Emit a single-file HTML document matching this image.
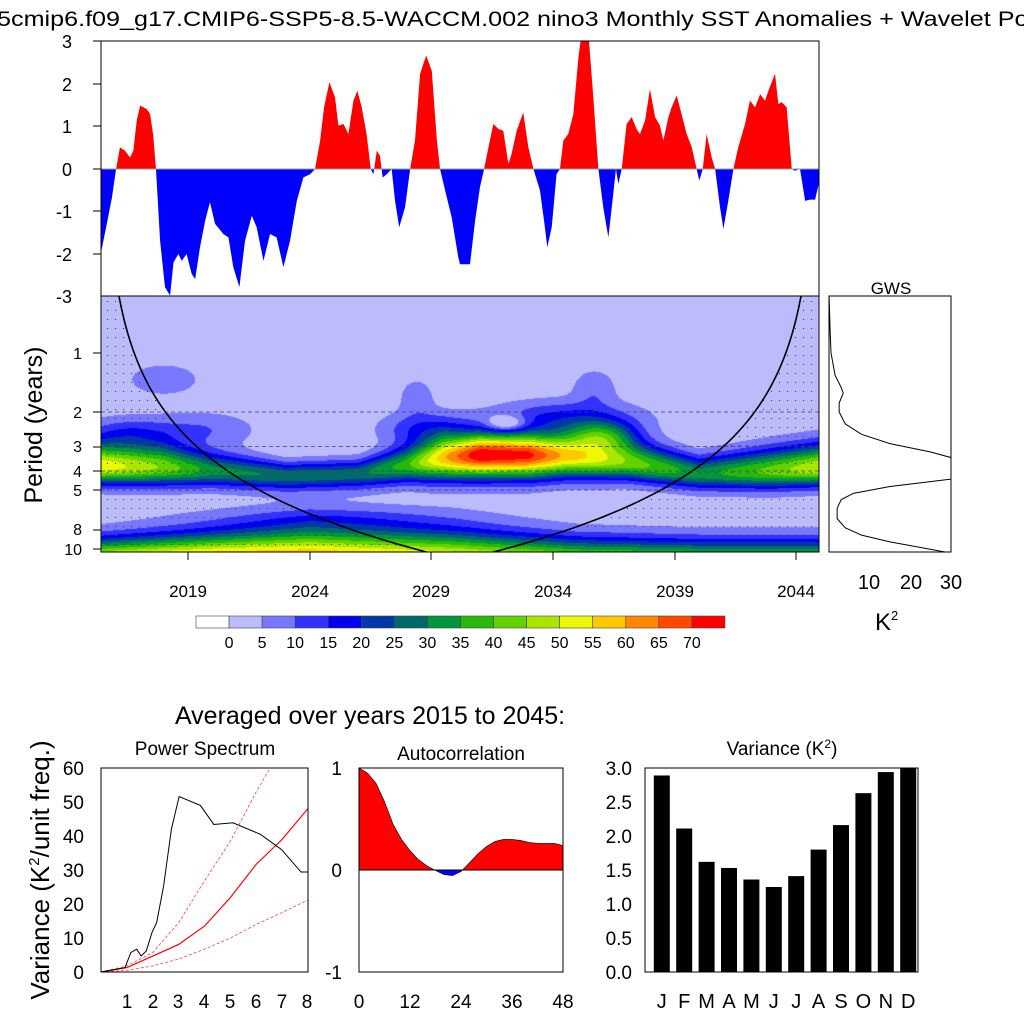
<!DOCTYPE html>
<html><head><meta charset="utf-8"><style>
html,body{margin:0;padding:0;background:#fff;}
#wrap{position:relative;width:1024px;height:1024px;overflow:hidden;font-family:"Liberation Sans",sans-serif;}
#wcanvas{position:absolute;left:101px;top:296px;}
#svg{position:absolute;left:0;top:0;}
text{font-family:"Liberation Sans",sans-serif;fill:#000;}
</style></head><body>
<div id="wrap">
<canvas id="wcanvas" width="718" height="256"></canvas>
<svg id="svg" width="1024" height="1024" xmlns="http://www.w3.org/2000/svg">
<defs>
<pattern id="stip" width="8" height="9" patternUnits="userSpaceOnUse"><rect x="3" y="4" width="1" height="1" fill="#333"/></pattern>
<clipPath id="clipPos"><rect x="101" y="41" width="718" height="128"/></clipPath>
<clipPath id="clipNeg"><rect x="101" y="169" width="718" height="127"/></clipPath>
<clipPath id="clipWave"><rect x="101" y="296" width="718" height="256"/></clipPath>
<clipPath id="clipGws"><rect x="829" y="296" width="122" height="256"/></clipPath>
<clipPath id="clipPs"><rect x="101" y="768" width="207" height="204"/></clipPath>
<clipPath id="clipAcPos"><rect x="359" y="768" width="204" height="102"/></clipPath>
<clipPath id="clipAcNeg"><rect x="359" y="870" width="204" height="102"/></clipPath>
</defs>
<text x="-3" y="26" font-size="21" textLength="1072" lengthAdjust="spacingAndGlyphs">5cmip6.f09_g17.CMIP6-SSP5-8.5-WACCM.002 nino3 Monthly SST Anomalies + Wavelet Power</text>

<g id="topPlot">
<g id="anomG"></g>
<line x1="101" y1="169" x2="819" y2="169" stroke="#999" stroke-width="1"/>
<rect x="101" y="41" width="718" height="255" fill="none" stroke="#000" stroke-width="1"/>
<g font-size="18" text-anchor="end">
<text x="72" y="48">3</text><text x="72" y="91">2</text><text x="72" y="133">1</text><text x="72" y="176">0</text><text x="72" y="218">-1</text><text x="72" y="261">-2</text><text x="72" y="303">-3</text>
</g>
<g stroke="#000">
<line x1="93" y1="41" x2="101" y2="41"/><line x1="93" y1="84" x2="101" y2="84"/><line x1="93" y1="126" x2="101" y2="126"/><line x1="93" y1="169" x2="101" y2="169"/><line x1="93" y1="211" x2="101" y2="211"/><line x1="93" y1="254" x2="101" y2="254"/>
</g>
</g>

<g id="wavePlot">
<g id="coiG" clip-path="url(#clipWave)"></g>
<g id="dashG"></g>
<rect x="101" y="296" width="718" height="256" fill="none" stroke="#000" stroke-width="1"/>
<g font-size="16" text-anchor="end">
<text x="82" y="359">1</text><text x="82" y="418">2</text><text x="82" y="452">3</text><text x="82" y="477">4</text><text x="82" y="496">5</text><text x="82" y="535">8</text><text x="82" y="555">10</text>
</g>
<g stroke="#000">
<line x1="93" y1="353" x2="101" y2="353"/><line x1="93" y1="412" x2="101" y2="412"/><line x1="93" y1="447" x2="101" y2="447"/><line x1="93" y1="471" x2="101" y2="471"/><line x1="93" y1="490" x2="101" y2="490"/><line x1="93" y1="530" x2="101" y2="530"/><line x1="93" y1="549" x2="101" y2="549"/>
</g>
<text transform="translate(42,425) rotate(-90)" font-size="25" text-anchor="middle">Period (years)</text>
<g font-size="17" text-anchor="middle">
<text x="188" y="597">2019</text><text x="310" y="597">2024</text><text x="431" y="597">2029</text><text x="553" y="597">2034</text><text x="675" y="597">2039</text><text x="796" y="597">2044</text>
</g>
<g stroke="#000">
<line x1="188" y1="552" x2="188" y2="560"/><line x1="310" y1="552" x2="310" y2="560"/><line x1="431" y1="552" x2="431" y2="560"/><line x1="553" y1="552" x2="553" y2="560"/><line x1="675" y1="552" x2="675" y2="560"/><line x1="796" y1="552" x2="796" y2="560"/>
</g>
</g>

<g id="gwsPlot">
<text x="891" y="294" font-size="17" text-anchor="middle">GWS</text>
<g id="gwsG" clip-path="url(#clipGws)"></g>
<rect x="829" y="296" width="122" height="256" fill="none" stroke="#000"/>
<g font-size="20" text-anchor="middle">
<text x="869" y="589">10</text><text x="911" y="589">20</text><text x="951" y="589">30</text>
</g>
<text x="875" y="630" font-size="24">K<tspan dy="-10" font-size="13">2</tspan></text>
</g>

<g id="cbar"></g>

<text x="370" y="724" font-size="25" text-anchor="middle">Averaged over years 2015 to 2045:</text>

<g id="psPlot">
<text x="205" y="755" font-size="19" text-anchor="middle">Power Spectrum</text>
<g id="psG" clip-path="url(#clipPs)"></g>
<rect x="101" y="768" width="207" height="204" fill="none" stroke="#000"/>
<g font-size="19" text-anchor="end">
<text x="84" y="979">0</text><text x="84" y="945">10</text><text x="84" y="911">20</text><text x="84" y="877">30</text><text x="84" y="843">40</text><text x="84" y="809">50</text><text x="84" y="775">60</text>
</g>
<g font-size="19" text-anchor="middle">
<text x="127" y="1008">1</text><text x="153" y="1008">2</text><text x="178" y="1008">3</text><text x="204" y="1008">4</text><text x="230" y="1008">5</text><text x="256" y="1008">6</text><text x="282" y="1008">7</text><text x="307" y="1008">8</text>
</g>
<text transform="translate(49,870) rotate(-90)" font-size="26" text-anchor="middle">Variance (K<tspan dy="-10" font-size="15">2</tspan><tspan dy="10">/unit freq.)</tspan></text>
</g>

<g id="acPlot">
<text x="461" y="760" font-size="19" text-anchor="middle">Autocorrelation</text>
<g id="acG"></g>
<line x1="359" y1="870" x2="563" y2="870" stroke="#000"/>
<rect x="359" y="768" width="204" height="204" fill="none" stroke="#000"/>
<g font-size="19" text-anchor="end">
<text x="342" y="775">1</text><text x="342" y="877">0</text><text x="342" y="979">-1</text>
</g>
<g font-size="19" text-anchor="middle">
<text x="359" y="1008">0</text><text x="410" y="1008">12</text><text x="461" y="1008">24</text><text x="512" y="1008">36</text><text x="563" y="1008">48</text>
</g>
</g>

<g id="varPlot">
<text x="782" y="755" font-size="19" text-anchor="middle">Variance (K<tspan dy="-7" font-size="12">2</tspan><tspan dy="7">)</tspan></text>
<g id="varG"></g>
<rect x="645" y="768" width="273" height="204" fill="none" stroke="#000"/>
<g font-size="19" text-anchor="end">
<text x="632" y="979">0.0</text><text x="632" y="945">0.5</text><text x="632" y="911">1.0</text><text x="632" y="877">1.5</text><text x="632" y="843">2.0</text><text x="632" y="809">2.5</text><text x="632" y="775">3.0</text>
</g>
<g id="varLab" font-size="20" text-anchor="middle"></g>
</g>
</svg>
</div>
<script>
// ---- data ----
const anomYears=[2015.38,2015.63,2015.87,2016.04,2016.20,2016.41,2016.61,2016.75,2016.89,2017.03,2017.30,2017.44,2017.57,2017.68,2017.85,2018.05,2018.26,2018.40,2018.60,2018.74,2018.94,2019.15,2019.29,2019.49,2019.70,2019.90,2020.11,2020.45,2020.66,2020.86,2021.11,2021.34,2021.62,2021.82,2022.10,2022.37,2022.64,2022.92,2023.19,2023.47,2023.74,2024.02,2024.22,2024.43,2024.59,2024.81,2025.04,2025.18,2025.39,2025.59,2025.80,2025.96,2026.14,2026.34,2026.51,2026.62,2026.76,2026.89,2027.00,2027.17,2027.37,2027.51,2027.68,2027.92,2028.13,2028.33,2028.54,2028.79,2029.02,2029.23,2029.36,2029.57,2029.84,2030.11,2030.18,2030.59,2030.80,2031.00,2031.17,2031.35,2031.55,2031.76,2031.96,2032.17,2032.30,2032.51,2032.78,2032.99,2033.20,2033.47,2033.67,2033.77,2033.95,2034.15,2034.29,2034.43,2034.63,2034.84,2035.05,2035.18,2035.46,2035.66,2035.87,2036.07,2036.28,2036.48,2036.59,2036.69,2036.83,2037.03,2037.24,2037.44,2037.58,2037.79,2037.99,2038.20,2038.40,2038.54,2038.75,2038.88,2039.09,2039.29,2039.50,2039.71,2039.91,2040.02,2040.16,2040.32,2040.53,2040.67,2040.87,2041.01,2041.21,2041.42,2041.62,2041.90,2042.10,2042.31,2042.52,2042.72,2042.86,2043.13,2043.27,2043.41,2043.61,2043.82,2043.95,2044.16,2044.37,2044.57,2044.78,2044.96];
const anomValues=[-2.08,-1.37,-0.67,0,0.51,0.43,0.27,0.43,1.14,1.49,1.41,1.29,0.78,0,-1.69,-2.78,-2.98,-2.2,-2.0,-2.16,-2.0,-2.47,-2.59,-1.84,-1.22,-0.78,-1.29,-1.53,-1.61,-2.31,-2.78,-1.69,-1.1,-1.37,-2.16,-1.53,-1.61,-2.31,-1.69,-0.75,-0.2,-0.12,0,0.67,1.45,2.04,1.69,1.02,1.06,0.82,1.61,1.84,1.45,0.82,0,-0.12,0.43,0.31,-0.2,-0.12,0,-0.75,-1.37,-0.9,0,0.67,2.24,2.67,2.31,0.67,0,-0.51,-1.14,-2.08,-2.24,-2.24,-1.22,-0.43,0,0.51,1.06,0.94,0.9,0.12,0.35,0.9,1.33,0.51,0,-0.51,-1.37,-1.84,-1.37,-0.12,0,0.67,0.82,1.29,2.63,3.2,3.2,1.69,0,-0.9,-1.61,-0.59,0,-0.35,0,1.06,1.22,0.94,0.82,1.14,1.88,1.22,1.02,0.67,1.22,1.45,1.73,1.29,0.82,0.51,0,-0.27,0,0.82,0.27,0,-0.9,-1.41,-0.75,0,0.51,1.06,1.61,1.45,1.76,1.61,1.84,2.24,1.53,1.57,1.45,0,-0.04,0,-0.75,-0.72,-0.72,-0.27];

const bandYears=[2015.4,2018,2020,2023,2026,2028,2029.5,2031,2033,2034.5,2037,2040,2043,2045];
const bandAmp=[52,42,30,27,26,36,56,73,70,55,42,30,40,48];
const bandCenter=[1.92,1.94,2.0,2.08,2.05,1.9,1.78,1.73,1.73,1.75,1.85,2.05,2.0,1.95];
const bandUpper=[0.27,0.27,0.22,0.15,0.16,0.22,0.25,0.25,0.25,0.25,0.26,0.2,0.26,0.28];
const bandLower=[0.2,0.2,0.18,0.17,0.17,0.2,0.25,0.26,0.26,0.24,0.2,0.18,0.2,0.2];
const lowYears=[2015,2020,2024,2030,2035,2040,2045];
const lowAmp=[55,62,62,55,45,42,42];
const lowWidth=[0.26,0.33,0.4,0.35,0.28,0.26,0.26];
const blobYear=[2018.0,2019.5,2028.4,2028.8,2035.7,2036.0,2034.5,2032.1,2016.5];
const blobLogP=[0.45,1.3,0.75,1.3,0.6,1.4,1.1,1.2,1.35];
const blobAmp=[6,8,6,14,7,25,14,-16,10];
const blobSdT=[1.1,1.5,0.5,1.2,0.6,1.0,2.0,0.6,1.2];
const blobSdP=[0.2,0.2,0.22,0.2,0.22,0.18,0.2,0.1,0.18];
const levelColors=["#ffffff","#bcbcfc","#7878ff","#3232ff","#0000f0","#0038aa","#006a6a","#00963c","#28b80a","#64d200","#aae600","#eef800","#ffc800","#ff8800","#ff4800","#ff0000"];
const levelLabels=[0,5,10,15,20,25,30,35,40,45,50,55,60,65,70];
const gwsPeriods=[0.5,0.8,1.0,1.3,1.5,1.6,1.8,2.0,2.3,2.6,2.9,3.2,3.6,4.0,4.4,4.8,5.2,5.6,6.2,7.0,7.8,8.5,9.2,10.4];
const gwsValues=[0,0.3,0.5,1.5,3,3.5,2.5,2.5,4,8,15,25,34,38,30,15,6,3,2,2,4,8,15,29];
const psFreq=[0,0.93,1.15,1.38,1.55,1.75,1.97,2.15,2.42,2.72,3.02,3.84,4.36,5.1,6.16,6.98,7.73,8];
const psPower=[0,1.3,5.7,6.7,4.7,6.2,11.6,14.5,25.3,42,51.6,49,43.4,43.9,40.5,36,29.4,29.4];
const redFreq=[0,1,2,3,4,5,6,7,8];
const redMean=[0,1.3,4.7,8.1,13.5,21.9,31.7,39,48.1];
const redUpper=[0,1.8,5.7,14.5,26.8,38.5,53,66,80];
const redLower=[0,0.5,1.8,3.8,6.7,10,14,17.5,21.2];
const acLags=[0,2,4,6,8,10,12,14,16,18,20,22,24,26,28,30,32,34,36,38,40,42,44,46,48];
const acValues=[1,0.95,0.85,0.67,0.45,0.3,0.19,0.1,0.04,-0.005,-0.045,-0.055,-0.015,0.07,0.16,0.23,0.28,0.3,0.3,0.29,0.27,0.26,0.26,0.26,0.24];
const months=["J","F","M","A","M","J","J","A","S","O","N","D"];
const monthVar=[2.89,2.11,1.62,1.53,1.36,1.25,1.41,1.8,2.16,2.63,2.94,3.0];

const NS="http://www.w3.org/2000/svg";
const T0=2015.42, T1=2044.94;
const tx=t=>101+(t-T0)*(718/(T1-T0));
const ty=v=>169-v*42.5;
const wy=P=>353+59*Math.log2(P);
const gx=v=>829+v*(122/30);
const px=f=>101+f*(207/8);
const py=v=>972-v*3.4;
const ax=l=>359+l*(204/48);
const ay=r=>870-r*102;
const vx=i=>645+(i+0.75)*22.4;
const vy=v=>972-v*68;
function mk(tag,attrs,parent){const e=document.createElementNS(NS,tag);for(const k in attrs)e.setAttribute(k,attrs[k]);parent.appendChild(e);return e;}
function interp(xs,ys,x){if(x<=xs[0])return ys[0];for(let i=1;i<xs.length;i++){if(x<=xs[i]){const f=(x-xs[i-1])/(xs[i]-xs[i-1]);return ys[i-1]+f*(ys[i]-ys[i-1]);}}return ys[ys.length-1];}

const anomG=document.getElementById("anomG");
let d="M"+tx(anomYears[0])+","+ty(0);
for(let i=0;i<anomYears.length;i++)d+=" L"+tx(anomYears[i]).toFixed(2)+","+ty(anomValues[i]).toFixed(2);
d+=" L"+tx(anomYears[anomYears.length-1])+","+ty(0)+" Z";
const posA=mk("path",{d:d,fill:"#ff0000","clip-path":"url(#clipPos)"},anomG);


const negA=mk("path",{d:d,fill:"#0000ff","clip-path":"url(#clipNeg)"},anomG);



function field(t,p){
  const A=interp(bandYears,bandAmp,t),c=interp(bandYears,bandCenter,t);
  const s=p<c?interp(bandYears,bandUpper,t):interp(bandYears,bandLower,t);
  let v=2+A*Math.exp(-0.5*Math.pow((p-c)/s,2));
  const LA=interp(lowYears,lowAmp,t),LW=interp(lowYears,lowWidth,t);
  v+=LA*Math.exp(-0.5*Math.pow((p-3.55)/LW,2));
  v+=5*Math.exp(-0.5*Math.pow((t-2025)/4,2)-0.5*Math.pow((p-2.8)/0.15,2));
  for(let k=0;k<blobYear.length;k++){
    v+=blobAmp[k]*Math.exp(-0.5*Math.pow((t-blobYear[k])/blobSdT[k],2)-0.5*Math.pow((p-blobLogP[k])/blobSdP[k],2));
  }
  return Math.max(v,1);
}
const cv=document.getElementById("wcanvas"),ctx=cv.getContext("2d");
const img=ctx.createImageData(718,256);
const rgb=levelColors.map(h=>[parseInt(h.substr(1,2),16),parseInt(h.substr(3,2),16),parseInt(h.substr(5,2),16)]);
for(let y=0;y<256;y++){
  const p=(296+y+0.5-353)/59;
  for(let x=0;x<718;x++){
    const t=T0+(x+0.5)*(T1-T0)/718;
    const v=field(t,p);
    let idx=Math.min(15,Math.floor(v/5)+1);
    const c=rgb[idx],o=(y*718+x)*4;
    img.data[o]=c[0];img.data[o+1]=c[1];img.data[o+2]=c[2];img.data[o+3]=255;
  }
}
ctx.putImageData(img,0,0);

const coiA=0.082, coiB=1.283;
const coiG=document.getElementById("coiG");
let L="",R="",first=true;
for(let k=0;k<=60;k++){
  const P=Math.pow(2,-1+k*(4.4/60));
  const dy=coiA+coiB*P;
  const yy=wy(P).toFixed(2);
  L+=(first?"M":" L")+tx(T0+dy).toFixed(2)+","+yy;
  R+=(first?"M":" L")+tx(T1-dy).toFixed(2)+","+yy;
  first=false;
}
const sL=mk("path",{d:L+" L101,600 L101,250 Z",fill:"url(#stip)"},coiG);


const sR=mk("path",{d:R+" L819,600 L819,250 Z",fill:"url(#stip)"},coiG);


const cL=mk("path",{d:L,fill:"none",stroke:"#000","stroke-width":"1.6"},coiG);


const cR=mk("path",{d:R,fill:"none",stroke:"#000","stroke-width":"1.6"},coiG);



const dashG=document.getElementById("dashG");
[2,3,4,5].forEach(P=>{
  const ln=mk("line",{x1:101,x2:819,y1:wy(P),y2:wy(P),stroke:"#444","stroke-width":"0.8","stroke-dasharray":"4,3"},dashG);
  
  
});

let g="";
for(let i=0;i<gwsPeriods.length;i++)g+=(i?" L":"M")+gx(gwsValues[i]).toFixed(2)+","+wy(gwsPeriods[i]).toFixed(2);
const gl=mk("path",{d:g,fill:"none",stroke:"#000","stroke-width":"1"},document.getElementById("gwsG"));



const cb=document.getElementById("cbar");
for(let i=0;i<levelColors.length;i++){
  const r=mk("rect",{x:196+i*33.06,y:616,width:33.06,height:12,fill:levelColors[i],stroke:"#444","stroke-width":"0.6"},cb);
  
  
}
for(let i=0;i<levelLabels.length;i++){
  const t=mk("text",{x:196+(i+1)*33.06,y:648,"font-size":"16","text-anchor":"middle"},cb);
  t.textContent=levelLabels[i];
  
  
}

const psG=document.getElementById("psG");
function line(xs,ys,fx,fy){let s="";for(let i=0;i<xs.length;i++)s+=(i?" L":"M")+fx(xs[i]).toFixed(2)+","+fy(ys[i]).toFixed(2);return s;}
const up=mk("path",{d:line(redFreq,redUpper,px,py),fill:"none",stroke:"#ff4040","stroke-width":"0.8","stroke-dasharray":"3,2"},psG);


const lo=mk("path",{d:line(redFreq,redLower,px,py),fill:"none",stroke:"#ff4040","stroke-width":"0.8","stroke-dasharray":"3,2"},psG);


const rm=mk("path",{d:line(redFreq,redMean,px,py),fill:"none",stroke:"#ff0000","stroke-width":"1.2"},psG);


const pl=mk("path",{d:line(psFreq,psPower,px,py),fill:"none",stroke:"#000","stroke-width":"1"},psG);



const acG=document.getElementById("acG");
let ad="M"+ax(acLags[0])+","+ay(0);
for(let i=0;i<acLags.length;i++)ad+=" L"+ax(acLags[i]).toFixed(2)+","+ay(acValues[i]).toFixed(2);
ad+=" L"+ax(acLags[acLags.length-1])+","+ay(0)+" Z";
const ap=mk("path",{d:ad,fill:"#ff0000",stroke:"#000","stroke-width":"0.6","clip-path":"url(#clipAcPos)"},acG);


const an=mk("path",{d:ad,fill:"#0000ff",stroke:"#000","stroke-width":"0.6","clip-path":"url(#clipAcNeg)"},acG);



const varG=document.getElementById("varG"),varLab=document.getElementById("varLab");
for(let i=0;i<monthVar.length;i++){
  const b=mk("rect",{x:vx(i)-8,y:vy(monthVar[i]),width:16,height:vy(0)-vy(monthVar[i]),fill:"#000"},varG);
  
  
  const t=mk("text",{x:vx(i),y:1008},varLab);
  t.textContent=months[i];
  
  
}
</script>
</body></html>
